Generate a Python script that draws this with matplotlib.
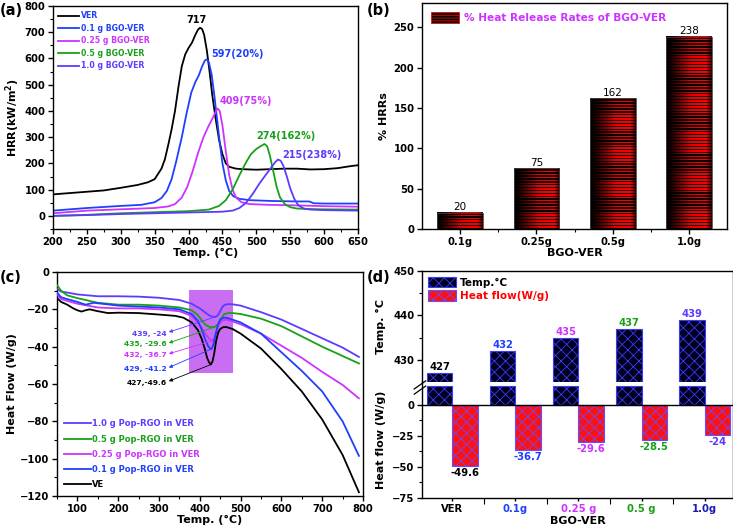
import numpy as np
import matplotlib
matplotlib.use("Agg")
import matplotlib.pyplot as plt
from matplotlib.patches import Patch, Rectangle
from matplotlib.ticker import MultipleLocator, FixedLocator

# ---- (a) HRR curves ----
a_names = ["VER", "0.1 g BGO-VER", "0.25 g BGO-VER", "0.5 g BGO-VER", "1.0 g BGO-VER"]
a_ver_x = [200, 225, 250, 275, 300, 325, 340, 350, 360, 365, 370, 375, 380, 385, 390, 395, 400,
           405, 410, 414, 417, 420, 423, 427, 431, 435, 440, 445, 450, 455, 460, 470, 480, 500,
           520, 540, 560, 580, 600, 620, 640, 650]
a_ver_y = [82, 87, 92, 97, 107, 118, 128, 140, 180, 215, 270, 330, 400, 490, 570, 615, 640,
           660, 690, 710, 717, 712, 690, 630, 550, 460, 370, 290, 235, 200, 187, 180, 178, 176,
           178, 180, 180, 177, 178, 182, 190, 193]
a_01_x = [200, 250, 300, 330, 350, 360, 368, 375, 382, 390, 397, 404, 410, 415, 420, 424, 427,
          430, 434, 438, 442, 446, 450, 455, 460, 466, 475, 490, 520, 560, 578, 585, 600, 650]
a_01_y = [20, 30, 38, 42, 52, 68, 95, 140, 210, 300, 390, 470, 510, 535, 570, 592, 597,
          585, 540, 460, 370, 280, 200, 135, 95, 75, 65, 60, 57, 55, 55, 48, 47, 47]
a_025_x = [200, 250, 300, 350, 370, 380, 390, 398, 406, 414, 422, 430, 436, 440, 443, 446, 450,
           455, 460, 465, 470, 478, 490, 520, 560, 600, 650]
a_025_y = [10, 20, 25, 30, 36, 45, 70, 110, 170, 240, 300, 345, 375, 397, 409, 400, 345,
           245, 155, 100, 70, 52, 45, 42, 40, 37, 35]
a_05_x = [200, 250, 300, 350, 400, 430, 445, 455, 465, 475, 485, 492, 500, 506, 512, 516, 520,
          525, 530, 535, 542, 550, 560, 580, 600, 650]
a_05_y = [0, 4, 10, 14, 18, 24, 38, 60, 100, 155, 205, 235, 255, 265, 274, 265, 230,
          170, 110, 70, 45, 33, 28, 26, 25, 24]
a_10_x = [200, 250, 300, 350, 400, 450, 465, 475, 485, 495, 505, 515, 522, 528, 532, 536, 540,
          545, 550, 556, 562, 570, 580, 600, 650]
a_10_y = [0, 3, 7, 10, 13, 16, 20, 30, 50, 85, 125, 160, 185, 205, 215, 210, 190,
          150, 105, 65, 40, 28, 24, 22, 20]
a_peak_txt = ["717", "597(20%)", "409(75%)", "274(162%)", "215(238%)"]

# ---- (b) % HRR reduction ----
b_cats = ["0.1g", "0.25g", "0.5g", "1.0g"]
b_vals = [20, 75, 162, 238]

# ---- (c) DSC heat flow ----
c_names = ["1.0 g Pop-RGO in VER", "0.5 g Pop-RGO in VER", "0.25 g Pop-RGO in VER",
           "0.1 g Pop-RGO in VER", "VE"]
c_10_x = [50, 60, 75, 100, 150, 200, 250, 300, 350, 380, 400, 415, 425, 432, 439, 445, 450,
          456, 462, 470, 480, 500, 550, 600, 650, 700, 750, 790]
c_10_y = [-9, -10.5, -11, -12, -13, -13, -13.2, -13.8, -15, -17, -19.5, -22, -23.5, -24, -24,
          -23, -21, -18.5, -17.5, -17.2, -17.3, -18, -21.5, -25.5, -30.5, -35.5, -40.5, -45.5]
c_05_x = [50, 60, 75, 100, 150, 200, 250, 300, 350, 380, 395, 405, 415, 425, 435, 445, 452,
          460, 470, 480, 500, 550, 600, 650, 700, 750, 790]
c_05_y = [-7, -10, -12.5, -14, -16.5, -17.5, -17.5, -18, -19, -20.5, -23, -26, -28.5, -29.5,
          -29.6, -28, -25, -22.5, -22, -22, -22.5, -25, -29, -34.5, -40, -45, -49]
c_025_x = [50, 60, 75, 100, 150, 200, 250, 300, 350, 380, 395, 405, 415, 422, 428, 432, 436,
           441, 447, 455, 465, 480, 500, 550, 600, 650, 700, 750, 790]
c_025_y = [-12, -14.5, -15.5, -17, -19, -19.5, -19.5, -20, -21, -23.5, -27, -30, -33.5, -35.5,
           -36.5, -36.7, -35.5, -32, -28, -26, -25.5, -26.5, -28, -33, -39.5, -46, -53.5,
           -60.5, -67.7]
c_01_x = [50, 60, 75, 100, 120, 140, 160, 200, 250, 300, 350, 380, 395, 405, 413, 420, 425,
          429, 433, 438, 444, 450, 458, 465, 480, 500, 550, 600, 650, 700, 750, 790]
c_01_y = [-11, -13.5, -14.5, -16, -17.5, -16.5, -17, -18, -18.5, -19, -20, -22.5, -26, -31,
          -36, -39.5, -41, -41.2, -39, -34, -28.5, -25.5, -24.5, -24.5, -25.5, -27, -33, -43,
          -53, -64, -80, -98.5]
c_ve_x = [50, 60, 75, 90, 100, 110, 120, 130, 150, 175, 200, 250, 300, 340, 360, 380, 395,
          405, 412, 418, 423, 427, 431, 435, 440, 445, 450, 458, 465, 480, 500, 550, 600, 650,
          700, 750, 790]
c_ve_y = [-14, -16, -17.5, -19.5, -20.5, -21.2, -20.5, -20, -21, -22, -21.8, -22, -22.8,
          -23.5, -24.5, -27, -31, -36, -41, -46, -48.5, -49.6, -48, -44, -37, -32.5, -30.5,
          -29.5, -29.5, -30.5, -33, -41, -52, -64, -79, -98, -118]
c_peak_T = [439, 435, 432, 429, 427]
c_peak_H = [-24, -29.6, -36.7, -41.2, -49.6]
c_peak_txt = ["439, -24", "435, -29.6", "432, -36.7", "429, -41.2", "427,-49.6"]

# ---- (d) peak temperature / heat flow ----
d_cats = ["VER", "0.1g", "0.25 g", "0.5 g", "1.0g"]
d_temp = [427, 432, 435, 437, 439]
d_heat = [-49.6, -36.7, -29.6, -28.5, -24]

BLUE = "#1f3fff"
MAG = "#cc33ff"
GREEN = "#18a018"
SLATE = "#5a3cff"

plt.rcParams.update({
    "font.family": "DejaVu Sans",
    "font.weight": "bold",
    "font.size": 7.2,
    "axes.labelweight": "bold",
    "axes.labelsize": 8,
    "axes.linewidth": 1.0,
    "xtick.major.size": 3.5, "ytick.major.size": 3.5,
    "xtick.minor.size": 2, "ytick.minor.size": 2,
    "xtick.major.width": 1, "ytick.major.width": 1,
    "xtick.minor.width": 0.8, "ytick.minor.width": 0.8,
    "xtick.major.pad": 2, "ytick.major.pad": 2,
    "hatch.linewidth": 0.6,
})

fig = plt.figure(figsize=(7.33, 5.31), dpi=100)
W, H = 733.0, 531.0


def box(l, t, r, b):
    return [l / W, 1 - b / H, (r - l) / W, (b - t) / H]


# ================= (a) =================
ax = fig.add_axes(box(53, 6, 358, 229))
a_cols = ["black", BLUE, MAG, GREEN, SLATE]
a_text_cols = [BLUE, BLUE, MAG, GREEN, SLATE]
for xs, ys, c, n in zip([a_ver_x, a_01_x, a_025_x, a_05_x, a_10_x],
                        [a_ver_y, a_01_y, a_025_y, a_05_y, a_10_y], a_cols, a_names):
    ax.plot(xs, ys, color=c, lw=1.3, label=n)
ax.set_xlim(200, 650)
ax.set_ylim(-50, 800)
ax.xaxis.set_major_locator(MultipleLocator(50))
ax.xaxis.set_minor_locator(MultipleLocator(25))
ax.yaxis.set_major_locator(FixedLocator(range(0, 801, 100)))
ax.yaxis.set_minor_locator(MultipleLocator(50))
ax.set_xlabel("Temp. (°C)", labelpad=1)
ax.set_ylabel(r"HRR(kW/m$^\mathbf{2}$)", labelpad=2)
leg = ax.legend(loc="upper left", frameon=False, fontsize=5.6, handlelength=2.6,
                labelspacing=0.45, borderaxespad=0.3, handletextpad=0.3)
for t, c in zip(leg.get_texts(), a_text_cols):
    t.set_color(c)
# peak labels: (x, y, ha) in data units, bottom-anchored
a_txt_pos = [(412, 727, "center"), (433, 597, "left"), (446, 420, "left"),
             (500, 284, "left"), (538, 212, "left")]
for (tx, ty, ha), s, c in zip(a_txt_pos, a_peak_txt, a_cols):
    ax.text(tx, ty, s, ha=ha, va="bottom", color=c, fontsize=7)

# ================= (b) =================
ax = fig.add_axes(box(422, 3, 727, 229))
xb = np.arange(len(b_cats))
bars = ax.bar(xb, b_vals, width=0.6, color="none", edgecolor="#444444", lw=0.6, zorder=3)
prof = np.interp(np.linspace(0, 1, 80), [0, 0.12, 0.55, 0.88, 1.0], [0.0, 0.12, 0.9, 1.0, 0.3])
for bar in bars:
    x0, w, h = bar.get_x(), bar.get_width(), bar.get_height()
    n = max(2, int(round(h / 3.6)))
    img = np.zeros((2 * n, prof.size, 3))
    img[0::2, :, 0] = prof
    img[1::2, :, 0] = prof * 0.08
    ax.imshow(img, extent=(x0, x0 + w, 0, h), aspect="auto", interpolation="nearest", zorder=2)
ax.bar_label(bars, fmt="%d", padding=0.5, fontweight="normal", fontsize=7.5)
ax.set_xlim(-0.5, 3.5)
ax.set_ylim(0, 280)
ax.set_xticks(xb, b_cats)
ax.xaxis.set_minor_locator(FixedLocator(xb[:-1] + 0.5))
ax.yaxis.set_major_locator(MultipleLocator(50))
ax.set_xlabel("BGO-VER", labelpad=1)
ax.set_ylabel("% HRRs", labelpad=3)
proxy = Patch(facecolor="black", edgecolor="red", hatch="------", lw=0.5)
leg = ax.legend([proxy], ["% Heat Release Rates of BGO-VER"], loc="upper left", frameon=False,
                fontsize=7.6, handlelength=2.7, handleheight=1.3, borderaxespad=0.45,
                handletextpad=0.4)
leg.get_texts()[0].set_color(MAG)

# ================= (c) =================
ax = fig.add_axes(box(57, 272, 363, 496))
c_cols = [SLATE, GREEN, MAG, BLUE, "black"]
for xs, ys, c, n in zip([c_10_x, c_05_x, c_025_x, c_01_x, c_ve_x],
                        [c_10_y, c_05_y, c_025_y, c_01_y, c_ve_y], c_cols, c_names):
    ax.plot(xs, ys, color=c, lw=1.3, label=n, zorder=3)
ax.add_patch(Rectangle((373, -54), 109, 44.2, facecolor="#c96ef3", edgecolor="none", zorder=1))
label_y = [-33, -38.8, -44.6, -52, -59.3]
for T, Hf, s, c, ly in zip(c_peak_T, c_peak_H, c_peak_txt, c_cols, label_y):
    ax.annotate("", xy=(324, ly + 0.8), xytext=(T, Hf),
                arrowprops=dict(arrowstyle="-|>", color=c, lw=0.6, mutation_scale=5,
                                shrinkA=0, shrinkB=0), zorder=4)
    ax.text(318, ly, s, ha="right", va="center", color=c, fontsize=5.4, zorder=4)
ax.set_xlim(50, 800)
ax.set_ylim(-120, 0)
ax.xaxis.set_major_locator(MultipleLocator(100))
ax.xaxis.set_minor_locator(MultipleLocator(50))
ax.yaxis.set_major_locator(MultipleLocator(20))
ax.yaxis.set_minor_locator(MultipleLocator(10))
ax.set_xlabel("Temp. (°C)", labelpad=1)
ax.set_ylabel("Heat Flow (W/g)", labelpad=2)
leg = ax.legend(loc="lower left", frameon=False, fontsize=6, handlelength=3.3,
                labelspacing=0.75, borderaxespad=0.4, handletextpad=0.1)
for t, c in zip(leg.get_texts(), c_cols):
    t.set_color(c)

# ================= (d) =================
axt = fig.add_axes(box(422, 271, 733, 382))
axb = fig.add_axes(box(422, 382, 733, 498), sharex=axt)
xd = np.arange(len(d_cats))
lo = 425
stub = 15
dark = dict(facecolor="#00001c", edgecolor="#3b3bff", hatch="xxx", lw=0.8)
red = dict(facecolor="#ff1010", edgecolor="#6a4cff", hatch="xxx", lw=0.8)
axt.bar(xd - 0.2, np.array(d_temp) - lo, bottom=lo, width=0.4, **dark)
axb.bar(xd - 0.2, stub, width=0.4, **dark)
axb.bar(xd + 0.2, d_heat, width=0.4, **red)
axb.axhline(0, color="black", lw=1.0)
d_cols = ["black", BLUE, MAG, GREEN, SLATE]
for xi, t, h, c in zip(xd, d_temp, d_heat, d_cols):
    axt.text(xi - 0.2, t + 0.2, str(t), ha="center", va="bottom", color=c, fontsize=7.2)
    axb.text(xi + 0.2, h - 1.5, f"{h:g}", ha="center", va="top", color=c, fontsize=7.2)
axt.set_ylim(lo, 450)
axt.yaxis.set_major_locator(FixedLocator([430, 440, 450]))
axt.yaxis.set_minor_locator(FixedLocator([435, 445]))
axb.set_ylim(-75, 18.5)
axb.yaxis.set_major_locator(FixedLocator([-75, -50, -25, 0]))
axb.yaxis.set_minor_locator(FixedLocator([-62.5, -37.5, -12.5]))
axt.spines["bottom"].set_visible(False)
axb.spines["top"].set_visible(False)
axt.tick_params(axis="x", which="both", bottom=False, labelbottom=False)
axb.set_xlim(-0.48, 4.45)
axb.set_xticks(xd, d_cats)
axb.xaxis.set_minor_locator(FixedLocator(xd[:-1] + 0.5))
axb.tick_params(axis="x", which="major", length=2)
axb.tick_params(axis="x", which="minor", length=4)
dcol_tick = ["black", BLUE, MAG, GREEN, "#1a1ab0"]
for lab, c in zip(axb.get_xticklabels(), dcol_tick):
    lab.set_color(c)
axb.set_xlabel("BGO-VER", labelpad=2)
axt.set_ylabel("Temp. °C")
axb.set_ylabel("Heat flow (W/g)")
axt.yaxis.set_label_coords(-0.115, 0.5)
axb.yaxis.set_label_coords(-0.115, 0.5)
for dy in (0.0, 0.045):
    axb.plot([-0.025, 0.012], [0.94 - dy, 1.01 - dy], transform=axb.transAxes,
             color="black", lw=0.9, clip_on=False)
leg = axt.legend([Patch(**dark), Patch(**red)], ["Temp.°C", "Heat flow(W/g)"],
                 loc="upper left", frameon=False, fontsize=7.5, handlelength=2.7,
                 handleheight=1.2, labelspacing=0.25, borderaxespad=0.15, handletextpad=0.4)
leg.get_texts()[1].set_color("red")

# panel letters
for s, x, y in [("(a)", 0, 3), ("(b)", 367, 3), ("(c)", 0, 270), ("(d)", 367, 270)]:
    fig.text(x / W, 1 - y / H, s, fontsize=10.5, fontweight="bold", va="top", ha="left")

fig.savefig("out.png", dpi=100)
